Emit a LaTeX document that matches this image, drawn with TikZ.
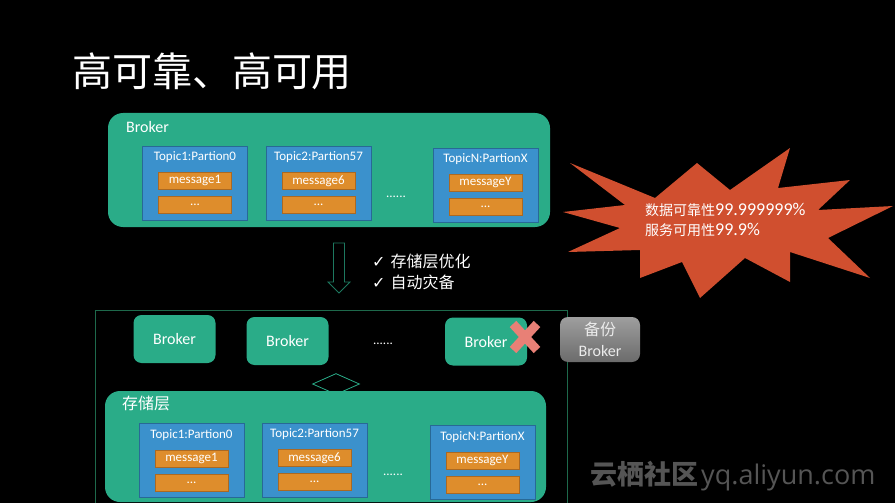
\documentclass[tikz,border=0pt]{standalone}
\usepackage{fontspec}
\setmainfont{Carlito}
\newfontfamily\cjk{Noto Sans CJK SC}
\newfontfamily\symf{DejaVu Sans}
\newfontfamily\urlf{Open Sans}
\usetikzlibrary{positioning,shapes.geometric}
\definecolor{brokergreen}{RGB}{42,172,136}
\definecolor{topicblue}{RGB}{59,145,204}
\definecolor{topicline}{RGB}{40,105,150}
\definecolor{msgorange}{RGB}{222,141,44}
\definecolor{msgline}{RGB}{170,105,35}
\definecolor{burst}{RGB}{208,79,47}
\definecolor{framegreen}{RGB}{30,105,75}
\definecolor{crossred}{RGB}{232,128,118}
\definecolor{markgray}{RGB}{85,85,85}
\newcommand\fsz[1]{\fontsize{#1}{#1}\selectfont}

\begin{document}
\begin{tikzpicture}[
  x=1pt, y=-1pt,
  layer/.style={fill=brokergreen,rounded corners=15pt,inner sep=0},
  topic/.style={draw=topicline,fill=topicblue,line width=0.8pt,minimum width=105pt,minimum height=74pt,inner sep=0},
  ttl/.style={text=white,inner sep=0,font=\fsz{13}},
  msg/.style={draw=msgline,fill=msgorange,line width=0.6pt,minimum width=73pt,minimum height=17pt,inner sep=0,text=white,font=\fsz{13}},
  brk/.style={fill=brokergreen,rounded corners=8pt,minimum width=82pt,minimum height=48pt,text=white,font=\fsz{16}},
  spare/.style={top color=black!38,bottom color=black!58,rounded corners=8pt,minimum width=80pt,minimum height=45pt,
    text=black!8,align=center,font=\fontsize{16}{21}\selectfont},
  dots/.style={text=white,font=\fsz{13},inner sep=0},
  lbl/.style={text=white,anchor=west,inner sep=0}
]
\useasboundingbox (0,0) rectangle (895,503);
\clip (0,0) rectangle (895,503);
\fill[black] (0,0) rectangle (895,503);

% title
\node[text=white, font=\cjk\fsz{40}, inner sep=0] (title) at (212,71) {高可靠、高可用};

% broker with its partitions
\node[layer, minimum width=442pt, minimum height=114pt] (broker) at (329,170) {};
\node[lbl, font=\fsz{16}] (brokerlbl) at (126,127) {Broker};

\node[topic] (t1) at (195,183) {};
\node[ttl, below=6pt of t1.north] (t1name) {Topic1:Partion0};
\node[msg, below=9pt of t1name] (t1msg) {message1};
\node[msg, below=6.5pt of t1msg] (t1more) {...};

\node[topic] (t2) at (318.5,183) {};
\node[ttl, below=6pt of t2.north] (t2name) {Topic2:Partion57};
\node[msg, below=9pt of t2name] (t2msg) {message6};
\node[msg, below=6.5pt of t2msg] (t2more) {...};

\node[dots] (topdots) at (396,197) {......};

\node[topic] (t3) at (485.5,185) {};
\node[ttl, below=6pt of t3.north] (t3name) {TopicN:PartionX};
\node[msg, below=9pt of t3name] (t3msg) {messageY};
\node[msg, below=6.5pt of t3msg] (t3more) {...};

% starburst
\fill[burst] (570,163) -- (655,198) -- (697,163) -- (730,190) -- (790,148) -- (778,188)
  -- (850,180) -- (818,210) -- (893,206) -- (828,238) -- (870,278) -- (790,252)
  -- (790,282) -- (745,258) -- (700,298) -- (682,262) -- (640,278) -- (640,250)
  -- (568,252) -- (620,228) -- (563,212) -- (625,205) -- cycle;
\node[lbl, align=left, font=\fontsize{18}{20}\selectfont] (sla) at (645,220)
  {{\cjk\fsz{14}数据可靠性}99.999999\%\\{\cjk\fsz{14}服务可用性}99.9\%};

% hollow down arrow
\coordinate (dn) at (339,243);
\draw[brokergreen!70!black, line width=0.8pt] (dn) ++(-5.5,0) -- ++(0,39) -- ++(-5.5,0)
  -- ++(11,11) -- ++(11,-11) -- ++(-5.5,0) -- ++(0,-39) -- cycle;
\node[lbl, align=left, font=\fontsize{16}{21}\selectfont] (todo) at (372,272)
  {{\symf\fsz{16}✓}\hspace{5pt}{\cjk 存储层优化}\\{\symf\fsz{16}✓}\hspace{5pt}{\cjk 自动灾备}};

% brokers over the storage layer
\node[draw=framegreen, line width=0.8pt, minimum width=472pt, minimum height=210pt, inner sep=0] (frame) at (331,415) {};
\node[brk] (b1) at (174.5,339) {Broker};
\node[brk] (b2) at (287.5,341) {Broker};
\node[dots] (bdots) at (383,344) {......};
\node[brk] (b3) at (486,341.5) {Broker};
\coordinate (xmark) at (525,337);
\draw[crossred, line width=9pt] (xmark) ++(-12,-13) -- ++(24,26);
\draw[crossred, line width=9pt] (xmark) ++(12,-13) -- ++(-24,26);
\node[spare] (backup) at (600,339.5) {{\cjk 备份}\\Broker};

\node[draw=brokergreen, diamond, minimum width=47pt, minimum height=21pt, inner sep=0, line width=0.8pt] (link) at (336,384) {};

% storage layer
\node[layer, minimum width=441pt, minimum height=111pt] (store) at (325.5,446.5) {};
\node[lbl, font=\cjk\fsz{16}] (storelbl) at (122,403) {存储层};

\node[topic] (s1) at (191.5,460.5) {};
\node[ttl, below=6pt of s1.north] (s1name) {Topic1:Partion0};
\node[msg, below=9pt of s1name] (s1msg) {message1};
\node[msg, below=6.5pt of s1msg] (s1more) {...};

\node[topic] (s2) at (314.5,460) {};
\node[ttl, below=6pt of s2.north] (s2name) {Topic2:Partion57};
\node[msg, below=9pt of s2name] (s2msg) {message6};
\node[msg, below=6.5pt of s2msg] (s2more) {...};

\node[dots] (lowdots) at (393,475) {......};

\node[topic] (s3) at (482.5,462.5) {};
\node[ttl, below=6pt of s3.north] (s3name) {TopicN:PartionX};
\node[msg, below=9pt of s3name] (s3msg) {messageY};
\node[msg, below=6.5pt of s3msg] (s3more) {...};

% watermark
\node[lbl, text=markgray] (mark) at (590,476) {{\cjk\bfseries\fsz{27}云栖社区}\hspace{3pt}{\urlf\fsz{27}yq.aliyun.com}};
\end{tikzpicture}
\end{document}
